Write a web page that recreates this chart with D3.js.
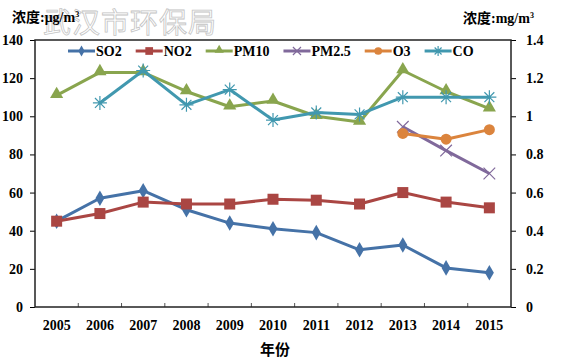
<!DOCTYPE html>
<html>
<head>
<meta charset="utf-8">
<script src="https://cdn.jsdelivr.net/npm/d3@7"></script>
<style>
  body { margin: 0; background: #fff; }
  text { font-family: "Liberation Serif", "Noto Sans CJK SC", serif; font-weight: bold; }
</style>
</head>
<body>
<div id="chart-container"></div>
<script>
var years = ["2005", "2006", "2007", "2008", "2009", "2010", "2011", "2012", "2013", "2014", "2015"];
var so2 = [45, 57, 61, 51, 44, 41, 39, 30, 32.5, 20.5, 18];
var no2 = [45, 49, 55, 54, 54, 56.5, 56, 54, 60, 55, 52];
var pm10 = [111, 123, 123, 113, 105, 108, 100, 97, 124, 113, 104];
var pm25 = [null, null, null, null, null, null, null, null, 94.5, 82, 70];
var o3 = [null, null, null, null, null, null, null, null, 91, 88, 93];
var co = [null, 1.07, 1.24, 1.06, 1.14, 0.98, 1.02, 1.01, 1.10, 1.10, 1.10];
var leftTicks = [0, 20, 40, 60, 80, 100, 120, 140];
var rightTicks = [0, 0.2, 0.4, 0.6, 0.8, 1, 1.2, 1.4];

var svgWidth = 565;
var svgHeight = 359;
var margin = { top: 40, right: 54, bottom: 52, left: 35 };
var width = svgWidth - margin.left - margin.right;
var height = svgHeight - margin.top - margin.bottom;

var svg = d3.select("#chart-container").append("svg")
    .attr("width", svgWidth)
    .attr("height", svgHeight);

// watermark
svg.append("text")
    .attr("x", 43)
    .attr("y", 33)
    .style("font-family", "'Noto Sans CJK SC'")
    .style("font-weight", "normal")
    .style("font-size", "28px")
    .style("letter-spacing", "1px")
    .attr("fill", "#fff")
    .attr("stroke", "#c4c4c4")
    .attr("stroke-width", 0.8)
    .text("武汉市环保局");

svg.append("text")
    .attr("x", 12)
    .attr("y", 22)
    .style("font-size", "14px")
    .html("浓度:μg/m<tspan dy='-5' style='font-size:8px'>3</tspan>");

svg.append("text")
    .attr("x", 463)
    .attr("y", 23)
    .style("font-size", "14px")
    .html("浓度:mg/m<tspan dy='-5' style='font-size:8px'>3</tspan>");

var g = svg.append("g")
    .attr("transform", "translate(" + margin.left + "," + margin.top + ")");

var xScale = d3.scaleBand().domain(years).range([0, width]);
var yScale = d3.scaleLinear().domain([0, 140]).range([height, 0]);
var y2Scale = d3.scaleLinear().domain([0, 1.4]).range([height, 0]);

// axes
var xAxis = g.append("g")
    .attr("transform", "translate(0," + height + ")")
    .call(d3.axisBottom(xScale).tickSize(0).tickPadding(13));
xAxis.selectAll(".tick line").remove();
xAxis.selectAll("text").style("font-size", "14px").attr("fill", "#000");
xAxis.select(".domain").remove();

g.selectAll(".xtick")
    .data(years.slice(1))
    .enter().append("line")
    .attr("x1", d => xScale(d))
    .attr("x2", d => xScale(d))
    .attr("y1", height)
    .attr("y2", height - 4)
    .attr("stroke", "#555");

var yAxis = g.append("g")
    .call(d3.axisLeft(yScale).tickValues(leftTicks).tickSize(5).tickPadding(7).tickSizeOuter(0));
yAxis.selectAll("text").style("font-size", "14px").attr("fill", "#000");
yAxis.select(".domain").remove();

var y2Axis = g.append("g")
    .attr("transform", "translate(" + width + ",0)")
    .call(d3.axisRight(y2Scale).tickValues(rightTicks).tickSize(5).tickPadding(10).tickSizeOuter(0)
        .tickFormat(d => d3.format("~g")(d)));
y2Axis.selectAll("text").style("font-size", "14px").attr("fill", "#000");
y2Axis.select(".domain").remove();

g.append("rect")
    .attr("width", width)
    .attr("height", height)
    .attr("fill", "none")
    .attr("stroke", "#222")
    .attr("stroke-width", 1.5);

svg.append("text")
    .attr("x", 275)
    .attr("y", 355)
    .attr("text-anchor", "middle")
    .style("font-size", "15px")
    .text("年份");

var series = [
    { name: "SO2", values: so2, color: "#4572a7", marker: "diamond", scale: yScale },
    { name: "NO2", values: no2, color: "#aa4643", marker: "square", scale: yScale },
    { name: "PM10", values: pm10, color: "#89a54e", marker: "triangle", scale: yScale },
    { name: "PM2.5", values: pm25, color: "#80699b", marker: "x", scale: yScale },
    { name: "O3", values: o3, color: "#db843d", marker: "circle", scale: yScale },
    { name: "CO", values: co, color: "#4198af", marker: "star", scale: y2Scale }
];

function drawMarker(sel, s, x, y, big) {
    var k = big ? 1 : 0.7;
    if (s.marker == "diamond") {
        sel.append("path").attr("d", d3.symbol(d3.symbolDiamond, 70 * k * k)())
            .attr("transform", "translate(" + x + "," + y + ")").attr("fill", s.color);
    } else if (s.marker == "square") {
        sel.append("rect").attr("x", x - 5.5 * k).attr("y", y - 5.5 * k)
            .attr("width", 11 * k).attr("height", 11 * k).attr("fill", s.color);
    } else if (s.marker == "triangle") {
        sel.append("path").attr("d", d3.symbol(d3.symbolTriangle, 75 * k * k)())
            .attr("transform", "translate(" + x + "," + (y - 1) + ")").attr("fill", s.color);
    } else if (s.marker == "circle") {
        sel.append("circle").attr("cx", x).attr("cy", y).attr("r", 5.5 * k).attr("fill", s.color);
    } else if (s.marker == "x") {
        sel.append("path").attr("d", d3.symbol(d3.symbolTimes, 90 * k * k)())
            .attr("transform", "translate(" + x + "," + y + ")")
            .attr("fill", "none").attr("stroke", s.color).attr("stroke-width", 1.2);
    } else {
        var r = 7 * k;
        var p = "";
        [0, 45, 90, 135].forEach(function(a) {
            var dx = r * Math.cos(a * Math.PI / 180), dy = r * Math.sin(a * Math.PI / 180);
            p += "M" + (x - dx) + "," + (y - dy) + "L" + (x + dx) + "," + (y + dy);
        });
        sel.append("path").attr("d", p).attr("stroke", s.color).attr("stroke-width", 1.2);
    }
}

series.forEach(function(s) {
    var pts = years.map((yr, i) => ({ year: yr, v: s.values[i] })).filter(d => d.v != null);
    var line = d3.line()
        .x(d => xScale(d.year) + xScale.bandwidth() / 2)
        .y(d => s.scale(d.v));
    g.append("path")
        .datum(pts)
        .attr("d", line)
        .attr("fill", "none")
        .attr("stroke", s.color)
        .attr("stroke-width", 3)
        .attr("stroke-linejoin", "round");
    var mg = g.append("g");
    pts.forEach(function(d) {
        drawMarker(mg, s, xScale(d.year) + xScale.bandwidth() / 2, s.scale(d.v), true);
    });
});

// legend
var lx = 68;
var ly = 51;
series.forEach(function(s) {
    var lg = svg.append("g");
    lg.append("line")
        .attr("x1", lx).attr("x2", lx + 27)
        .attr("y1", ly).attr("y2", ly)
        .attr("stroke", s.color).attr("stroke-width", 3);
    drawMarker(lg, s, lx + 13.5, ly, false);
    var t = lg.append("text")
        .attr("x", lx + 28)
        .attr("y", ly + 5)
        .style("font-size", "14px")
        .text(s.name);
    lx += 28 + t.node().getComputedTextLength() + 14;
});
</script>
</body>
</html>
